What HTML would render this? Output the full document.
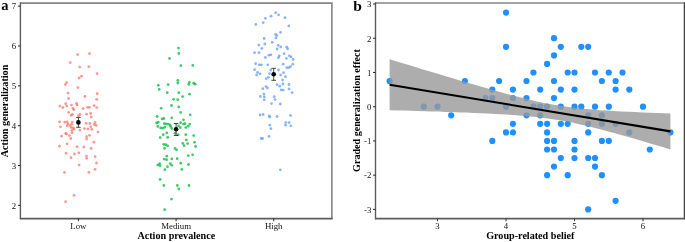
<!DOCTYPE html>
<html><head><meta charset="utf-8"><title>Figure</title>
<style>html,body{margin:0;padding:0;background:#fff}#w{will-change:transform;width:685px;height:242px}svg{font-family:"Liberation Serif",serif}</style></head>
<body>
<div id="w">
<svg width="685" height="242" viewBox="0 0 685 242" style="display:block">
<g fill="#F8766D" fill-opacity="0.75">
<circle cx="77.7" cy="54.6" r="1.4"/>
<circle cx="89.5" cy="53.7" r="1.4"/>
<circle cx="70.2" cy="62.6" r="1.4"/>
<circle cx="79.7" cy="67.1" r="1.4"/>
<circle cx="88.8" cy="66.7" r="1.4"/>
<circle cx="97.0" cy="73.7" r="1.4"/>
<circle cx="81.6" cy="76.2" r="1.4"/>
<circle cx="79.1" cy="78.0" r="1.4"/>
<circle cx="66.6" cy="82.6" r="1.4"/>
<circle cx="65.4" cy="84.6" r="1.4"/>
<circle cx="77.9" cy="87.6" r="1.4"/>
<circle cx="68.0" cy="93.1" r="1.4"/>
<circle cx="97.2" cy="93.7" r="1.4"/>
<circle cx="84.9" cy="96.5" r="1.4"/>
<circle cx="68.6" cy="98.5" r="1.4"/>
<circle cx="96.7" cy="99.3" r="1.4"/>
<circle cx="65.7" cy="103.7" r="1.4"/>
<circle cx="76.5" cy="103.4" r="1.4"/>
<circle cx="77.1" cy="104.9" r="1.4"/>
<circle cx="71.5" cy="105.1" r="1.4"/>
<circle cx="59.8" cy="106.1" r="1.4"/>
<circle cx="66.7" cy="106.1" r="1.4"/>
<circle cx="62.9" cy="107.5" r="1.4"/>
<circle cx="94.1" cy="105.6" r="1.4"/>
<circle cx="96.7" cy="107.6" r="1.4"/>
<circle cx="87.5" cy="107.4" r="1.4"/>
<circle cx="89.5" cy="107.4" r="1.4"/>
<circle cx="83.1" cy="108.6" r="1.4"/>
<circle cx="72.9" cy="108.4" r="1.4"/>
<circle cx="73.8" cy="109.7" r="1.4"/>
<circle cx="68.6" cy="112.3" r="1.4"/>
<circle cx="72.4" cy="114.5" r="1.4"/>
<circle cx="71.0" cy="115.4" r="1.4"/>
<circle cx="79.9" cy="114.5" r="1.4"/>
<circle cx="78.5" cy="115.7" r="1.4"/>
<circle cx="86.6" cy="114.2" r="1.4"/>
<circle cx="90.7" cy="113.5" r="1.4"/>
<circle cx="91.2" cy="116.9" r="1.4"/>
<circle cx="59.5" cy="121.9" r="1.4"/>
<circle cx="64.7" cy="122.1" r="1.4"/>
<circle cx="67.0" cy="121.9" r="1.4"/>
<circle cx="72.2" cy="122.1" r="1.4"/>
<circle cx="67.9" cy="123.9" r="1.4"/>
<circle cx="71.7" cy="124.2" r="1.4"/>
<circle cx="67.2" cy="125.9" r="1.4"/>
<circle cx="70.0" cy="125.6" r="1.4"/>
<circle cx="60.5" cy="126.8" r="1.4"/>
<circle cx="71.2" cy="127.4" r="1.4"/>
<circle cx="73.2" cy="128.0" r="1.4"/>
<circle cx="74.1" cy="128.9" r="1.4"/>
<circle cx="72.0" cy="130.3" r="1.4"/>
<circle cx="79.9" cy="130.1" r="1.4"/>
<circle cx="86.2" cy="123.3" r="1.4"/>
<circle cx="89.9" cy="123.5" r="1.4"/>
<circle cx="95.1" cy="122.4" r="1.4"/>
<circle cx="94.2" cy="124.5" r="1.4"/>
<circle cx="96.2" cy="125.4" r="1.4"/>
<circle cx="90.7" cy="126.8" r="1.4"/>
<circle cx="84.4" cy="128.6" r="1.4"/>
<circle cx="87.9" cy="128.9" r="1.4"/>
<circle cx="91.8" cy="129.4" r="1.4"/>
<circle cx="98.0" cy="132.1" r="1.4"/>
<circle cx="65.7" cy="133.5" r="1.4"/>
<circle cx="66.5" cy="134.1" r="1.4"/>
<circle cx="72.0" cy="132.7" r="1.4"/>
<circle cx="61.5" cy="136.2" r="1.4"/>
<circle cx="69.6" cy="135.6" r="1.4"/>
<circle cx="70.8" cy="138.5" r="1.4"/>
<circle cx="89.5" cy="135.3" r="1.4"/>
<circle cx="86.6" cy="136.7" r="1.4"/>
<circle cx="86.6" cy="139.1" r="1.4"/>
<circle cx="93.9" cy="142.2" r="1.4"/>
<circle cx="67.1" cy="143.8" r="1.4"/>
<circle cx="59.4" cy="146.2" r="1.4"/>
<circle cx="77.1" cy="146.7" r="1.4"/>
<circle cx="83.9" cy="147.0" r="1.4"/>
<circle cx="91.1" cy="148.4" r="1.4"/>
<circle cx="66.1" cy="153.2" r="1.4"/>
<circle cx="74.4" cy="154.0" r="1.4"/>
<circle cx="78.9" cy="152.8" r="1.4"/>
<circle cx="71.0" cy="157.7" r="1.4"/>
<circle cx="86.5" cy="156.1" r="1.4"/>
<circle cx="86.7" cy="158.4" r="1.4"/>
<circle cx="95.1" cy="156.7" r="1.4"/>
<circle cx="96.5" cy="163.0" r="1.4"/>
<circle cx="79.1" cy="165.1" r="1.4"/>
<circle cx="95.1" cy="169.3" r="1.4"/>
<circle cx="64.5" cy="172.4" r="1.4"/>
<circle cx="88.9" cy="172.4" r="1.4"/>
<circle cx="74.1" cy="195.3" r="1.4"/>
<circle cx="65.6" cy="201.7" r="1.4"/>
</g>
<g fill="#00BA38" fill-opacity="0.75">
<circle cx="178.5" cy="48.1" r="1.4"/>
<circle cx="178.8" cy="53.5" r="1.4"/>
<circle cx="169.5" cy="58.4" r="1.4"/>
<circle cx="180.8" cy="65.7" r="1.4"/>
<circle cx="192.8" cy="65.4" r="1.4"/>
<circle cx="177.8" cy="80.3" r="1.4"/>
<circle cx="177.8" cy="83.0" r="1.4"/>
<circle cx="189.3" cy="82.4" r="1.4"/>
<circle cx="188.8" cy="84.4" r="1.4"/>
<circle cx="193.7" cy="83.2" r="1.4"/>
<circle cx="195.2" cy="84.2" r="1.4"/>
<circle cx="168.2" cy="84.6" r="1.4"/>
<circle cx="158.3" cy="85.3" r="1.4"/>
<circle cx="159.2" cy="89.4" r="1.4"/>
<circle cx="167.2" cy="92.7" r="1.4"/>
<circle cx="178.8" cy="92.7" r="1.4"/>
<circle cx="189.6" cy="94.2" r="1.4"/>
<circle cx="182.6" cy="96.6" r="1.4"/>
<circle cx="173.6" cy="99.3" r="1.4"/>
<circle cx="177.7" cy="99.7" r="1.4"/>
<circle cx="171.5" cy="105.5" r="1.4"/>
<circle cx="178.8" cy="106.9" r="1.4"/>
<circle cx="161.2" cy="108.3" r="1.4"/>
<circle cx="180.6" cy="112.4" r="1.4"/>
<circle cx="190.2" cy="114.8" r="1.4"/>
<circle cx="157.2" cy="116.5" r="1.4"/>
<circle cx="171.8" cy="117.8" r="1.4"/>
<circle cx="162.1" cy="118.9" r="1.4"/>
<circle cx="163.8" cy="118.5" r="1.4"/>
<circle cx="183.5" cy="119.8" r="1.4"/>
<circle cx="156.6" cy="123.0" r="1.4"/>
<circle cx="158.2" cy="122.2" r="1.4"/>
<circle cx="164.2" cy="123.6" r="1.4"/>
<circle cx="166.2" cy="123.8" r="1.4"/>
<circle cx="168.2" cy="124.1" r="1.4"/>
<circle cx="170.1" cy="125.0" r="1.4"/>
<circle cx="180.6" cy="122.7" r="1.4"/>
<circle cx="183.5" cy="124.1" r="1.4"/>
<circle cx="185.0" cy="123.6" r="1.4"/>
<circle cx="189.8" cy="124.1" r="1.4"/>
<circle cx="188.2" cy="126.2" r="1.4"/>
<circle cx="157.8" cy="126.5" r="1.4"/>
<circle cx="160.7" cy="127.9" r="1.4"/>
<circle cx="162.8" cy="128.2" r="1.4"/>
<circle cx="164.8" cy="127.1" r="1.4"/>
<circle cx="170.7" cy="126.7" r="1.4"/>
<circle cx="171.8" cy="128.6" r="1.4"/>
<circle cx="178.5" cy="125.9" r="1.4"/>
<circle cx="180.3" cy="127.6" r="1.4"/>
<circle cx="185.8" cy="127.6" r="1.4"/>
<circle cx="166.8" cy="132.9" r="1.4"/>
<circle cx="163.2" cy="134.7" r="1.4"/>
<circle cx="175.0" cy="133.3" r="1.4"/>
<circle cx="185.8" cy="134.7" r="1.4"/>
<circle cx="193.7" cy="135.6" r="1.4"/>
<circle cx="178.2" cy="134.7" r="1.4"/>
<circle cx="160.2" cy="137.6" r="1.4"/>
<circle cx="167.7" cy="137.3" r="1.4"/>
<circle cx="186.3" cy="139.9" r="1.4"/>
<circle cx="194.6" cy="142.3" r="1.4"/>
<circle cx="182.8" cy="143.4" r="1.4"/>
<circle cx="187.6" cy="143.6" r="1.4"/>
<circle cx="163.7" cy="144.3" r="1.4"/>
<circle cx="165.8" cy="144.7" r="1.4"/>
<circle cx="167.7" cy="145.8" r="1.4"/>
<circle cx="195.6" cy="146.5" r="1.4"/>
<circle cx="184.1" cy="145.7" r="1.4"/>
<circle cx="164.5" cy="148.4" r="1.4"/>
<circle cx="175.0" cy="148.4" r="1.4"/>
<circle cx="176.5" cy="149.8" r="1.4"/>
<circle cx="166.8" cy="156.2" r="1.4"/>
<circle cx="188.2" cy="155.6" r="1.4"/>
<circle cx="192.6" cy="154.8" r="1.4"/>
<circle cx="164.2" cy="159.1" r="1.4"/>
<circle cx="166.6" cy="159.7" r="1.4"/>
<circle cx="171.8" cy="158.9" r="1.4"/>
<circle cx="177.2" cy="158.7" r="1.4"/>
<circle cx="180.8" cy="163.2" r="1.4"/>
<circle cx="170.2" cy="163.6" r="1.4"/>
<circle cx="171.8" cy="165.3" r="1.4"/>
<circle cx="159.6" cy="163.6" r="1.4"/>
<circle cx="157.8" cy="165.1" r="1.4"/>
<circle cx="160.1" cy="165.7" r="1.4"/>
<circle cx="167.5" cy="166.7" r="1.4"/>
<circle cx="188.5" cy="164.5" r="1.4"/>
<circle cx="164.8" cy="169.7" r="1.4"/>
<circle cx="181.8" cy="169.4" r="1.4"/>
<circle cx="160.1" cy="179.4" r="1.4"/>
<circle cx="163.8" cy="185.5" r="1.4"/>
<circle cx="177.3" cy="185.5" r="1.4"/>
<circle cx="178.8" cy="189.0" r="1.4"/>
<circle cx="189.0" cy="185.5" r="1.4"/>
<circle cx="171.5" cy="199.1" r="1.4"/>
<circle cx="164.7" cy="209.7" r="1.4"/>
</g>
<g fill="#619CFF" fill-opacity="0.75">
<circle cx="275.6" cy="12.7" r="1.4"/>
<circle cx="278.6" cy="14.8" r="1.4"/>
<circle cx="271.0" cy="16.2" r="1.4"/>
<circle cx="285.0" cy="17.7" r="1.4"/>
<circle cx="265.4" cy="18.3" r="1.4"/>
<circle cx="263.2" cy="22.6" r="1.4"/>
<circle cx="255.8" cy="24.4" r="1.4"/>
<circle cx="288.8" cy="25.9" r="1.4"/>
<circle cx="280.6" cy="32.3" r="1.4"/>
<circle cx="275.6" cy="34.4" r="1.4"/>
<circle cx="276.8" cy="35.6" r="1.4"/>
<circle cx="275.9" cy="37.9" r="1.4"/>
<circle cx="264.2" cy="38.5" r="1.4"/>
<circle cx="272.2" cy="42.3" r="1.4"/>
<circle cx="264.8" cy="44.0" r="1.4"/>
<circle cx="258.8" cy="45.1" r="1.4"/>
<circle cx="278.2" cy="45.3" r="1.4"/>
<circle cx="280.8" cy="46.9" r="1.4"/>
<circle cx="286.8" cy="47.2" r="1.4"/>
<circle cx="287.6" cy="48.8" r="1.4"/>
<circle cx="261.8" cy="48.4" r="1.4"/>
<circle cx="277.1" cy="49.0" r="1.4"/>
<circle cx="254.6" cy="52.7" r="1.4"/>
<circle cx="259.0" cy="52.7" r="1.4"/>
<circle cx="284.1" cy="53.7" r="1.4"/>
<circle cx="268.9" cy="55.2" r="1.4"/>
<circle cx="270.9" cy="54.8" r="1.4"/>
<circle cx="279.2" cy="55.8" r="1.4"/>
<circle cx="289.3" cy="55.8" r="1.4"/>
<circle cx="291.1" cy="56.9" r="1.4"/>
<circle cx="265.4" cy="57.5" r="1.4"/>
<circle cx="278.4" cy="57.7" r="1.4"/>
<circle cx="286.4" cy="58.3" r="1.4"/>
<circle cx="293.1" cy="59.5" r="1.4"/>
<circle cx="255.6" cy="63.7" r="1.4"/>
<circle cx="259.3" cy="64.8" r="1.4"/>
<circle cx="261.3" cy="64.8" r="1.4"/>
<circle cx="267.8" cy="64.8" r="1.4"/>
<circle cx="283.2" cy="64.2" r="1.4"/>
<circle cx="292.8" cy="64.2" r="1.4"/>
<circle cx="290.5" cy="66.6" r="1.4"/>
<circle cx="288.8" cy="67.7" r="1.4"/>
<circle cx="286.8" cy="67.7" r="1.4"/>
<circle cx="254.6" cy="69.7" r="1.4"/>
<circle cx="270.8" cy="70.0" r="1.4"/>
<circle cx="278.5" cy="70.0" r="1.4"/>
<circle cx="257.6" cy="72.4" r="1.4"/>
<circle cx="260.1" cy="73.8" r="1.4"/>
<circle cx="256.6" cy="75.0" r="1.4"/>
<circle cx="269.5" cy="73.6" r="1.4"/>
<circle cx="283.5" cy="72.7" r="1.4"/>
<circle cx="280.6" cy="75.0" r="1.4"/>
<circle cx="285.5" cy="76.7" r="1.4"/>
<circle cx="268.5" cy="77.3" r="1.4"/>
<circle cx="266.2" cy="78.7" r="1.4"/>
<circle cx="282.6" cy="80.0" r="1.4"/>
<circle cx="282.9" cy="84.0" r="1.4"/>
<circle cx="277.1" cy="84.7" r="1.4"/>
<circle cx="288.9" cy="84.5" r="1.4"/>
<circle cx="279.8" cy="86.2" r="1.4"/>
<circle cx="266.0" cy="86.6" r="1.4"/>
<circle cx="267.5" cy="88.1" r="1.4"/>
<circle cx="262.8" cy="88.7" r="1.4"/>
<circle cx="289.0" cy="89.0" r="1.4"/>
<circle cx="281.2" cy="89.9" r="1.4"/>
<circle cx="283.2" cy="90.1" r="1.4"/>
<circle cx="292.1" cy="92.6" r="1.4"/>
<circle cx="263.9" cy="94.0" r="1.4"/>
<circle cx="260.4" cy="96.4" r="1.4"/>
<circle cx="264.3" cy="96.9" r="1.4"/>
<circle cx="274.2" cy="96.7" r="1.4"/>
<circle cx="264.2" cy="99.8" r="1.4"/>
<circle cx="275.0" cy="99.6" r="1.4"/>
<circle cx="271.6" cy="103.6" r="1.4"/>
<circle cx="280.3" cy="104.0" r="1.4"/>
<circle cx="260.1" cy="115.0" r="1.4"/>
<circle cx="263.1" cy="114.5" r="1.4"/>
<circle cx="269.2" cy="115.9" r="1.4"/>
<circle cx="269.8" cy="117.1" r="1.4"/>
<circle cx="277.0" cy="116.5" r="1.4"/>
<circle cx="290.5" cy="115.5" r="1.4"/>
<circle cx="285.8" cy="122.6" r="1.4"/>
<circle cx="289.1" cy="122.6" r="1.4"/>
<circle cx="285.5" cy="125.2" r="1.4"/>
<circle cx="290.9" cy="125.8" r="1.4"/>
<circle cx="269.8" cy="125.2" r="1.4"/>
<circle cx="270.9" cy="128.7" r="1.4"/>
<circle cx="269.0" cy="136.4" r="1.4"/>
<circle cx="261.2" cy="138.5" r="1.4"/>
<circle cx="262.6" cy="138.5" r="1.4"/>
<circle cx="280.3" cy="169.8" r="1.4"/>
</g>
<g stroke="#000" stroke-width="0.7" fill="none"><line x1="78.4" y1="117.4" x2="78.4" y2="127.3"/><line x1="76.10000000000001" y1="117.4" x2="80.7" y2="117.4"/><line x1="76.10000000000001" y1="127.3" x2="80.7" y2="127.3"/></g>
<circle cx="78.4" cy="122.4" r="2.3" fill="#000"/>
<g stroke="#000" stroke-width="0.7" fill="none"><line x1="176.1" y1="123.5" x2="176.1" y2="135.5"/><line x1="173.79999999999998" y1="123.5" x2="178.4" y2="123.5"/><line x1="173.79999999999998" y1="135.5" x2="178.4" y2="135.5"/></g>
<circle cx="176.1" cy="129.3" r="2.3" fill="#000"/>
<g stroke="#000" stroke-width="0.7" fill="none"><line x1="273.7" y1="68.3" x2="273.7" y2="80.3"/><line x1="271.4" y1="68.3" x2="276.0" y2="68.3"/><line x1="271.4" y1="80.3" x2="276.0" y2="80.3"/></g>
<circle cx="273.7" cy="74.3" r="2.3" fill="#000"/>
<path d="M20.5 3.1H331.9V218.6" fill="none" stroke="#858585" stroke-width="1.6" stroke-linejoin="miter"/>
<line x1="20.4" x2="20.4" y1="2.3" y2="219.2" stroke="#5c5c5c" stroke-width="1.4"/>
<line x1="19.9" x2="332.7" y1="218.6" y2="218.6" stroke="#5c5c5c" stroke-width="1.7"/>
<g stroke="#333" stroke-width="1.05">
<line x1="17.9" x2="20.5" y1="205.40" y2="205.40"/>
<line x1="17.9" x2="20.5" y1="165.55" y2="165.55"/>
<line x1="17.9" x2="20.5" y1="125.70" y2="125.70"/>
<line x1="17.9" x2="20.5" y1="85.85" y2="85.85"/>
<line x1="17.9" x2="20.5" y1="46.00" y2="46.00"/>
<line x1="17.9" x2="20.5" y1="6.15" y2="6.15"/>
<line x1="78.4" x2="78.4" y1="218.6" y2="221.2"/>
<line x1="176.1" x2="176.1" y1="218.6" y2="221.2"/>
<line x1="273.7" x2="273.7" y1="218.6" y2="221.2"/>
</g>
<g font-family="Liberation Serif, serif" font-size="8.8" fill="#111">
<text x="16.2" y="208.70" text-anchor="end">2</text>
<text x="16.2" y="168.85" text-anchor="end">3</text>
<text x="16.2" y="129.00" text-anchor="end">4</text>
<text x="16.2" y="89.15" text-anchor="end">5</text>
<text x="16.2" y="49.30" text-anchor="end">6</text>
<text x="16.2" y="9.45" text-anchor="end">7</text>
<text x="78.4" y="228.65" text-anchor="middle">Low</text>
<text x="176.1" y="228.65" text-anchor="middle">Medium</text>
<text x="273.7" y="228.65" text-anchor="middle">High</text>
</g>
<g font-family="Liberation Serif, serif" font-weight="bold" fill="#000">
<text x="176.3" y="239" font-size="10.15" text-anchor="middle">Action prevalence</text>
<text transform="translate(8.1 111.0) rotate(-90)" font-size="10.15" text-anchor="middle">Action generalization</text>
<text x="1.3" y="10.1" font-size="14.5">a</text>
<text x="353.3" y="10.8" font-size="15.5">b</text>
<text x="530.3" y="239" font-size="10.15" text-anchor="middle">Group-related belief</text>
<text transform="translate(359.9 110.5) rotate(-90)" font-size="10.1" text-anchor="middle">Graded generalization effect</text>
</g>
<g fill="#1E90FF">
<circle cx="506.0" cy="12.6" r="3.1"/>
<circle cx="554.0" cy="38.2" r="3.1"/>
<circle cx="506.0" cy="46.8" r="3.1"/>
<circle cx="560.8" cy="46.8" r="3.1"/>
<circle cx="581.3" cy="46.8" r="3.1"/>
<circle cx="588.2" cy="46.8" r="3.1"/>
<circle cx="554.0" cy="55.4" r="3.1"/>
<circle cx="547.1" cy="63.9" r="3.1"/>
<circle cx="533.4" cy="72.5" r="3.1"/>
<circle cx="567.7" cy="72.5" r="3.1"/>
<circle cx="574.5" cy="72.5" r="3.1"/>
<circle cx="595.0" cy="72.5" r="3.1"/>
<circle cx="608.8" cy="72.5" r="3.1"/>
<circle cx="622.5" cy="72.5" r="3.1"/>
<circle cx="389.6" cy="81.0" r="3.1"/>
<circle cx="464.9" cy="81.0" r="3.1"/>
<circle cx="499.1" cy="81.0" r="3.1"/>
<circle cx="526.5" cy="81.0" r="3.1"/>
<circle cx="554.0" cy="81.0" r="3.1"/>
<circle cx="601.9" cy="81.0" r="3.1"/>
<circle cx="615.6" cy="81.0" r="3.1"/>
<circle cx="492.3" cy="89.6" r="3.1"/>
<circle cx="512.9" cy="89.6" r="3.1"/>
<circle cx="540.2" cy="89.6" r="3.1"/>
<circle cx="560.8" cy="89.6" r="3.1"/>
<circle cx="574.5" cy="89.6" r="3.1"/>
<circle cx="615.6" cy="89.6" r="3.1"/>
<circle cx="629.3" cy="89.6" r="3.1"/>
<circle cx="485.4" cy="98.1" r="3.1"/>
<circle cx="492.3" cy="98.1" r="3.1"/>
<circle cx="512.9" cy="98.1" r="3.1"/>
<circle cx="526.5" cy="98.1" r="3.1"/>
<circle cx="554.0" cy="98.1" r="3.1"/>
<circle cx="423.8" cy="106.7" r="3.1"/>
<circle cx="437.5" cy="106.7" r="3.1"/>
<circle cx="506.0" cy="106.7" r="3.1"/>
<circle cx="533.4" cy="106.7" r="3.1"/>
<circle cx="540.2" cy="106.7" r="3.1"/>
<circle cx="547.1" cy="106.7" r="3.1"/>
<circle cx="560.8" cy="106.7" r="3.1"/>
<circle cx="574.5" cy="106.7" r="3.1"/>
<circle cx="581.3" cy="106.7" r="3.1"/>
<circle cx="595.0" cy="106.7" r="3.1"/>
<circle cx="608.8" cy="106.7" r="3.1"/>
<circle cx="643.0" cy="106.7" r="3.1"/>
<circle cx="451.2" cy="115.3" r="3.1"/>
<circle cx="526.5" cy="115.3" r="3.1"/>
<circle cx="540.2" cy="115.3" r="3.1"/>
<circle cx="588.2" cy="115.3" r="3.1"/>
<circle cx="601.9" cy="115.3" r="3.1"/>
<circle cx="512.9" cy="123.8" r="3.1"/>
<circle cx="540.2" cy="123.8" r="3.1"/>
<circle cx="547.1" cy="123.8" r="3.1"/>
<circle cx="560.8" cy="123.8" r="3.1"/>
<circle cx="567.7" cy="123.8" r="3.1"/>
<circle cx="588.2" cy="123.8" r="3.1"/>
<circle cx="601.9" cy="123.8" r="3.1"/>
<circle cx="615.6" cy="123.8" r="3.1"/>
<circle cx="506.0" cy="132.4" r="3.1"/>
<circle cx="512.9" cy="132.4" r="3.1"/>
<circle cx="547.1" cy="132.4" r="3.1"/>
<circle cx="588.2" cy="132.4" r="3.1"/>
<circle cx="629.3" cy="132.4" r="3.1"/>
<circle cx="670.4" cy="132.4" r="3.1"/>
<circle cx="492.3" cy="140.9" r="3.1"/>
<circle cx="547.1" cy="140.9" r="3.1"/>
<circle cx="554.0" cy="140.9" r="3.1"/>
<circle cx="574.5" cy="140.9" r="3.1"/>
<circle cx="601.9" cy="140.9" r="3.1"/>
<circle cx="608.8" cy="140.9" r="3.1"/>
<circle cx="547.1" cy="149.5" r="3.1"/>
<circle cx="554.0" cy="149.5" r="3.1"/>
<circle cx="574.5" cy="149.5" r="3.1"/>
<circle cx="649.8" cy="149.5" r="3.1"/>
<circle cx="560.8" cy="158.0" r="3.1"/>
<circle cx="574.5" cy="158.0" r="3.1"/>
<circle cx="588.2" cy="158.0" r="3.1"/>
<circle cx="595.0" cy="158.0" r="3.1"/>
<circle cx="554.0" cy="166.6" r="3.1"/>
<circle cx="595.0" cy="166.6" r="3.1"/>
<circle cx="547.1" cy="175.2" r="3.1"/>
<circle cx="567.7" cy="175.2" r="3.1"/>
<circle cx="601.9" cy="175.2" r="3.1"/>
<circle cx="615.6" cy="200.8" r="3.1"/>
<circle cx="588.2" cy="209.4" r="3.1"/>
</g>
<polygon points="389.6,59.2 396.6,61.4 403.6,63.5 410.6,65.6 417.6,67.8 424.7,69.9 431.7,72.0 438.7,74.1 445.7,76.2 452.7,78.3 459.8,80.4 466.8,82.5 473.8,84.6 480.8,86.6 487.8,88.6 494.9,90.6 501.9,92.5 508.9,94.4 515.9,96.3 523.0,98.1 530.0,99.8 537.0,101.4 544.0,102.9 551.0,104.3 558.1,105.5 565.1,106.6 572.1,107.5 579.1,108.3 586.1,109.0 593.2,109.6 600.2,110.2 607.2,110.6 614.2,111.1 621.3,111.4 628.3,111.8 635.3,112.1 642.3,112.4 649.3,112.7 656.4,112.9 663.4,113.2 670.4,113.4 670.4,149.4 663.4,147.3 656.4,145.2 649.3,143.2 642.3,141.1 635.3,139.1 628.3,137.0 621.3,135.0 614.2,133.1 607.2,131.2 600.2,129.3 593.2,127.5 586.1,125.8 579.1,124.2 572.1,122.6 565.1,121.3 558.1,120.0 551.0,118.9 544.0,117.9 537.0,117.1 530.0,116.4 523.0,115.7 515.9,115.2 508.9,114.7 501.9,114.3 494.9,113.9 487.8,113.5 480.8,113.2 473.8,112.9 466.8,112.6 459.8,112.4 452.7,112.1 445.7,111.9 438.7,111.6 431.7,111.4 424.7,111.2 417.6,111.0 410.6,110.8 403.6,110.6 396.6,110.4 389.6,110.2" fill="#999" fill-opacity="0.8"/>
<line x1="389.6" y1="84.7" x2="670.4" y2="131.4" stroke="#000" stroke-width="2.1"/>
<path d="M375.6 3.0H684.5V218.6" fill="none" stroke="#858585" stroke-width="1.6" stroke-linejoin="miter"/>
<line x1="375.5" x2="375.5" y1="2.2" y2="219.2" stroke="#5c5c5c" stroke-width="1.4"/>
<rect x="683.9" y="2.2" width="1.2" height="217.2" fill="#484848"/>
<line x1="375.0" x2="685.3" y1="218.6" y2="218.6" stroke="#5c5c5c" stroke-width="1.7"/>
<g stroke="#333" stroke-width="1.05">
<line x1="373.0" x2="375.6" y1="209.39" y2="209.39"/>
<line x1="373.0" x2="375.6" y1="175.16" y2="175.16"/>
<line x1="373.0" x2="375.6" y1="140.93" y2="140.93"/>
<line x1="373.0" x2="375.6" y1="106.70" y2="106.70"/>
<line x1="373.0" x2="375.6" y1="72.47" y2="72.47"/>
<line x1="373.0" x2="375.6" y1="38.24" y2="38.24"/>
<line x1="373.0" x2="375.6" y1="4.01" y2="4.01"/>
<line x1="437.5" x2="437.5" y1="218.6" y2="221.2"/>
<line x1="506.0" x2="506.0" y1="218.6" y2="221.2"/>
<line x1="574.5" x2="574.5" y1="218.6" y2="221.2"/>
<line x1="643.0" x2="643.0" y1="218.6" y2="221.2"/>
</g>
<g font-family="Liberation Serif, serif" font-size="8.8" fill="#111">
<text x="371.3" y="212.69" text-anchor="end">-3</text>
<text x="371.3" y="178.46" text-anchor="end">-2</text>
<text x="371.3" y="144.23" text-anchor="end">-1</text>
<text x="371.3" y="110.00" text-anchor="end">0</text>
<text x="371.3" y="75.77" text-anchor="end">1</text>
<text x="371.3" y="41.54" text-anchor="end">2</text>
<text x="371.3" y="7.31" text-anchor="end">3</text>
<text x="437.5" y="228.65" text-anchor="middle">3</text>
<text x="506.0" y="228.65" text-anchor="middle">4</text>
<text x="574.5" y="228.65" text-anchor="middle">5</text>
<text x="643.0" y="228.65" text-anchor="middle">6</text>
</g>
</svg>
</div>
</body></html>
